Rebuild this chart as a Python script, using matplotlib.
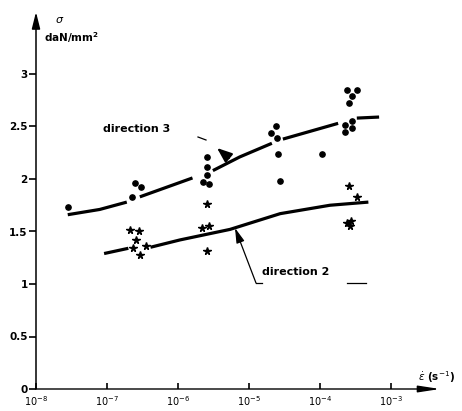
import numpy as np
import matplotlib
matplotlib.use("Agg")
import matplotlib.pyplot as plt
from matplotlib.ticker import NullLocator

# ---- data (strain rate in s^-1, stress in daN/mm^2) ----
dir3_pts_x = [2.8e-8, 2.45e-7, 3.0e-7, 2.25e-7,
              2.6e-6, 2.6e-6, 2.6e-6, 2.25e-6, 2.75e-6,
              2.4e-5, 2.05e-5, 2.45e-5, 2.6e-5, 2.75e-5,
              1.07e-4,
              2.4e-4, 3.3e-4, 2.8e-4, 2.6e-4, 2.8e-4, 2.25e-4, 2.8e-4, 2.25e-4]
dir3_pts_y = [1.73, 1.96, 1.92, 1.83,
              2.21, 2.11, 2.04, 1.97, 1.95,
              2.50, 2.44, 2.39, 2.24, 1.98,
              2.24,
              2.85, 2.85, 2.79, 2.72, 2.55, 2.51, 2.49, 2.45]

dir2_pts_x = [2.1e-7, 2.8e-7, 2.6e-7, 2.35e-7, 3.6e-7, 2.9e-7,
              2.6e-6, 2.2e-6, 2.75e-6, 2.6e-6,
              2.6e-4, 3.3e-4, 2.4e-4, 2.75e-4, 2.65e-4]
dir2_pts_y = [1.51, 1.50, 1.42, 1.34, 1.36, 1.28,
              1.76, 1.53, 1.55, 1.31,
              1.93, 1.83, 1.58, 1.60, 1.55]

nan = np.nan
dir3_curve_x = [2.8e-8, 7.9e-8, 1.9e-7, nan, 2.9e-7, 1.6e-6, nan, 3.1e-6, 7.4e-6,
                2.1e-5, nan, 3.0e-5, 1.8e-4, nan, 3.3e-4, 6.8e-4]
dir3_curve_y = [1.66, 1.71, 1.78, nan, 1.83, 2.01, nan, 2.08, 2.21,
                2.34, nan, 2.38, 2.53, nan, 2.58, 2.59]

dir2_curve_x = [9.1e-8, 2.0e-7, nan, 4.1e-7, 1.07e-6, 5.4e-6, 2.75e-5, 1.38e-4, 4.8e-4]
dir2_curve_y = [1.29, 1.34, nan, 1.35, 1.42, 1.52, 1.67, 1.75, 1.78]

xtick_vals = [1e-8, 1e-7, 1e-6, 1e-5, 1e-4, 1e-3]
xtick_labels = [r"$10^{-8}$", r"$10^{-7}$", r"$10^{-6}$", r"$10^{-5}$", r"$10^{-4}$", r"$10^{-3}$"]
ytick_vals = [0, 0.5, 1, 1.5, 2, 2.5, 3]
ytick_labels = ["0", "0.5", "1", "1.5", "2", "2.5", "3"]

W, H = 462, 411
fig = plt.figure(figsize=(W / 100, H / 100), dpi=100)
fig.patch.set_facecolor("white")

def fx(px):
    return px / W

def fy(py):
    return 1 - py / H

ax = fig.add_axes([fx(36), fy(389), (440 - 36) / W, (389 - 12) / H])
ax.set_xscale("log")
ax.set_xlim(1e-8, 10 ** (-8 + 404 / 71))
ax.set_ylim(0, 377 / 105)
for s in ax.spines.values():
    s.set_visible(False)
ax.patch.set_alpha(0)

# axes with arrows
ax.annotate("", xy=(0, 1), xytext=(0, 0), xycoords="axes fraction",
            arrowprops=dict(arrowstyle="-|>,head_length=1.0,head_width=0.25", lw=1.1,
                            color="k", shrinkA=0, shrinkB=0))
ax.annotate("", xy=(1, 0), xytext=(0, 0), xycoords="axes fraction",
            arrowprops=dict(arrowstyle="-|>,head_length=1.3,head_width=0.2", lw=1.0,
                            color="k", shrinkA=0, shrinkB=0))

ax.set_xticks(xtick_vals)
ax.set_xticklabels(xtick_labels, fontsize=7, fontweight="bold")
ax.xaxis.set_minor_locator(NullLocator())
ax.tick_params(axis="x", direction="in", length=4, width=1.2, pad=4)
ax.set_yticks(ytick_vals)
ax.set_yticklabels(ytick_labels, fontsize=7.5, fontweight="bold")
ax.tick_params(axis="y", direction="out", length=5, width=1.2, pad=1)

# curves
ax.plot(dir3_curve_x, dir3_curve_y, color="k", lw=2.3, solid_capstyle="butt", clip_on=False)
ax.plot(dir2_curve_x, dir2_curve_y, color="k", lw=2.3, solid_capstyle="butt", clip_on=False)

# points
ax.plot(dir3_pts_x, dir3_pts_y, "o", color="k", ms=3.8, clip_on=False)
ax.plot(dir2_pts_x, dir2_pts_y, "*", color="k", ms=5.5, clip_on=False)

# labels
fig.text(fx(137), fy(129), "direction 3", fontsize=8, fontweight="bold",
         ha="center", va="center")
fig.text(fx(296), fy(272), "direction 2", fontsize=8, fontweight="bold",
         ha="center", va="center")

# leader for direction 2
fig.add_artist(plt.Line2D([fx(262), fx(256)], [fy(283), fy(283)], color="k", lw=0.9))
fig.add_artist(plt.Line2D([fx(347), fx(366)], [fy(283), fy(283)], color="k", lw=0.9))
ax.annotate("", xy=(fx(235), fy(228)), xytext=(fx(256), fy(283)),
            xycoords="figure fraction", textcoords="figure fraction",
            arrowprops=dict(arrowstyle="-|>,head_length=0.9,head_width=0.25", lw=0.9,
                            color="k", shrinkA=0, shrinkB=0))
# arrow mark for direction 3
ax.annotate("", xy=(fx(217), fy(148)), xytext=(fx(229), fy(158)),
            xycoords="figure fraction", textcoords="figure fraction",
            arrowprops=dict(arrowstyle="-|>,head_length=0.9,head_width=0.35", lw=1.5,
                            color="k", shrinkA=0, shrinkB=0))
fig.add_artist(plt.Line2D([fx(198), fx(206)], [fy(137), fy(140)], color="k", lw=0.9))

# axis titles
fig.text(fx(55), fy(20), r"$\sigma$", fontsize=8, fontweight="bold", ha="left", va="center")
fig.text(fx(44), fy(38), r"daN/mm$^\mathbf{2}$", fontsize=7.5, fontweight="bold",
         ha="left", va="center")
fig.text(fx(418), fy(377), r"$\dot{\varepsilon}$ (s$^{-1}$)", fontsize=7.5, fontweight="bold",
         ha="left", va="center")

fig.savefig("out.png", dpi=100)
